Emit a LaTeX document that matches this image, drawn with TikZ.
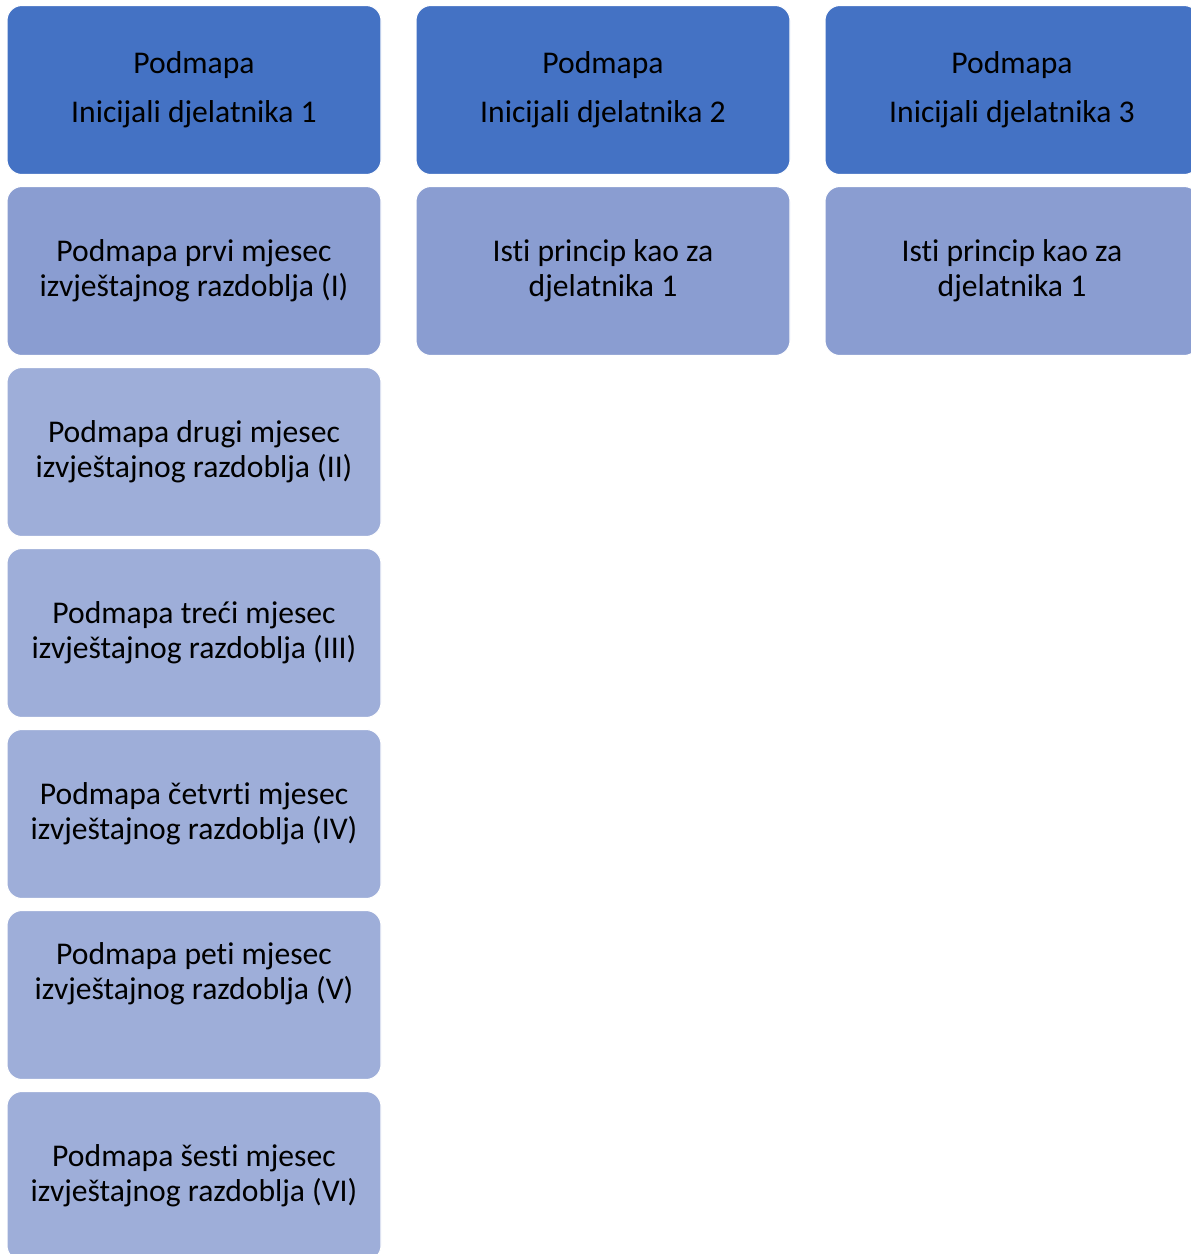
\documentclass[tikz,border=0pt]{standalone}
\usepackage{fontspec}
\setmainfont{Carlito}[Ligatures=NoCommon]
\usetikzlibrary{positioning}
\definecolor{Head}{HTML}{4472C4}
\definecolor{MonthDark}{HTML}{8A9DD1}
\definecolor{MonthPale}{HTML}{9EAED9}

\begin{document}
\begin{tikzpicture}[
    box/.style={draw=white,line width=0.6pt,rounded corners=8.5pt,
                minimum width=7.48cm,minimum height=3.38cm,align=center,
                inner sep=0pt,outer sep=0pt,font=\fontsize{18}{20}\selectfont},
    head/.style={box,fill=Head},
    monthA/.style={box,fill=MonthDark},
    monthB/.style={box,fill=MonthPale},
    node distance=0.24cm and 0.7cm]
  \useasboundingbox (0,0) rectangle (23.82,-25.08);
  \clip (0,0) rectangle (23.82,-25.08);

  % glavne podmape po djelatniku
  \node[head] (d1) at (3.88,-1.8) {Podmapa\\[8pt]Inicijali djelatnika 1};
  \node[head,right=of d1] (d2) {Podmapa\\[8pt]Inicijali djelatnika 2};
  \node[head,right=of d2] (d3) {Podmapa\\[8pt]Inicijali djelatnika 3};

  % mjeseci za djelatnika 1
  \node[monthA,below=of d1] (m1) {Podmapa prvi mjesec\\izvještajnog razdoblja (I)};
  \node[monthB,below=of m1] (m2) {Podmapa drugi mjesec\\izvještajnog razdoblja (II)};
  \node[monthB,below=of m2] (m3) {Podmapa treći mjesec\\izvještajnog razdoblja (III)};
  \node[monthB,below=of m3] (m4) {Podmapa četvrti mjesec\\izvještajnog razdoblja (IV)};
  \node[monthB,below=of m4] (m5) {Podmapa peti mjesec\\izvještajnog razdoblja (V)\\[7pt]\mbox{}};
  \node[monthB,below=of m5] (m6) {Podmapa šesti mjesec\\izvještajnog razdoblja (VI)};

  % ostali djelatnici
  \node[monthA,below=of d2] (p2) {Isti princip kao za\\djelatnika 1};
  \node[monthA,below=of d3] (p3) {Isti princip kao za\\djelatnika 1};
\end{tikzpicture}
\end{document}
